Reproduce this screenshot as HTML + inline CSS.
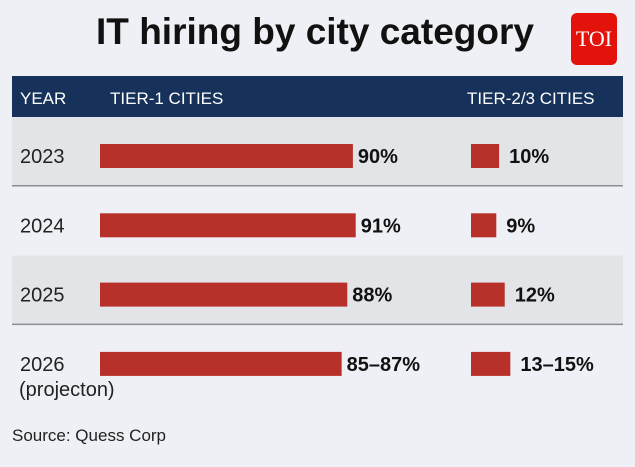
<!DOCTYPE html>
<html><head><meta charset="utf-8"><style>
body{margin:0;width:635px;height:467px;background:#eef0f5;font-family:"Liberation Sans",sans-serif;position:relative;overflow:hidden}
.a{position:absolute}
</style></head><body>
<div class="a" style="left:0;width:635px;top:11px;text-align:center;font-size:37px;font-weight:bold;color:#111;padding-right:5px;box-sizing:border-box">IT hiring by city category</div>
<div class="a" style="left:571px;top:13px;width:46px;height:52px;background:#e3120b;border-radius:6px;color:#fff;font-family:'Liberation Serif',serif;font-size:22px;line-height:52px;text-align:center">TOI</div>
<div class="a" style="left:12px;top:76px;width:611px;height:41px;background:#17325a;color:#fff;font-size:17px;line-height:45px">
<span class="a" style="left:8px">YEAR</span>
<span class="a" style="left:98px">TIER-1 CITIES</span>
<span class="a" style="left:455px">TIER-2/3 CITIES</span>
</div>
<svg class="a" style="left:0;top:0" width="635" height="467" id="chart"></svg>
<div class="a" style="left:19px;top:379px;font-size:20px;color:#222">(projecton)</div>
<div class="a" style="left:12px;top:426px;font-size:17px;color:#222">Source: Quess Corp</div>
<script>
const years=["2023","2024","2025","2026"];
const tier1=[90,91,88,86];
const tier2=[10,9,12,14];
const tier1Labels=["90%","91%","88%","85–87%"];
const tier2Labels=["10%","9%","12%","13–15%"];
const svg=document.getElementById('chart');
const NS="http://www.w3.org/2000/svg";
const k=2.81;
const x1=v=>100+v*k, x2=v=>471+v*k;
function mk(t,a){const e=document.createElementNS(NS,t);for(const n in a)e.setAttribute(n,a[n]);svg.appendChild(e);return e;}
years.forEach((y,i)=>{
 const top=117+i*69.3;
 if(i%2===0){const r=mk('rect',{x:12,y:top,width:611,height:69,fill:'#e2e4e8'});
 
 
 const l=mk('rect',{x:12,y:top+68,width:611,height:1.5,fill:'#8a8d92'});
 
 }
 const cy=top+39;
 const t=mk('text',{x:20,y:cy+7,'font-size':20,fill:'#222'});t.textContent=y;
 
 
 const b1=mk('rect',{x:100,y:cy-12,width:x1(tier1[i])-100,height:24,fill:'#b8302a'});
 
 
 const v1=mk('text',{x:x1(tier1[i])+5,y:cy+7,'font-size':20,'font-weight':'bold',fill:'#111'});v1.textContent=tier1Labels[i];
 
 
 const b2=mk('rect',{x:471,y:cy-12,width:x2(tier2[i])-471,height:24,fill:'#b8302a'});
 
 
 const v2=mk('text',{x:x2(tier2[i])+10,y:cy+7,'font-size':20,'font-weight':'bold',fill:'#111'});v2.textContent=tier2Labels[i];
 
 
});
</script>
</body></html>
